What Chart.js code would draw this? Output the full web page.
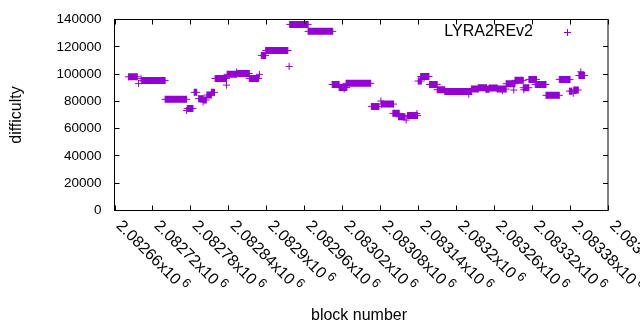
<!DOCTYPE html>
<html lang="en">
<head>
<meta charset="UTF-8">
<title>LYRA2REv2 difficulty</title>
<script src="https://cdn.jsdelivr.net/npm/chart.js"></script>
<style>
  body { margin: 0; background: #fff; }
</style>
</head>
<body>
<canvas id="diffChart" width="640" height="330"></canvas>
<script>
// runs of equal difficulty: first block, last block, difficulty
const runStart = [2082682, 2082698, 2082702, 2082703, 2082740, 2082774, 2082775, 2082786, 2082793, 2082800,
                  2082801, 2082806, 2082813, 2082819, 2082837, 2082838, 2082853, 2082854, 2082873, 2082889,
                  2082892, 2082899, 2082936, 2082937, 2082966, 2083004, 2083015, 2083023, 2083026, 2083066,
                  2083081, 2083082, 2083100, 2083109, 2083121, 2083123, 2083138, 2083140, 2083144, 2083158,
                  2083170, 2083182, 2083220, 2083224, 2083235, 2083247, 2083252, 2083265, 2083273, 2083279,
                  2083291, 2083293, 2083306, 2083307, 2083315, 2083325, 2083342, 2083363, 2083379, 2083385,
                  2083386, 2083394, 2083397];
const runEnd   = [2082696, 2082698, 2082702, 2082740, 2082774, 2082774, 2082784, 2082790, 2082800, 2082800,
                  2082805, 2082813, 2082818, 2082837, 2082837, 2082853, 2082853, 2082873, 2082888, 2082889,
                  2082899, 2082934, 2082936, 2082966, 2083005, 2083015, 2083027, 2083023, 2083065, 2083078,
                  2083081, 2083101, 2083110, 2083119, 2083121, 2083139, 2083138, 2083145, 2083157, 2083170,
                  2083182, 2083224, 2083220, 2083235, 2083248, 2083252, 2083265, 2083279, 2083273, 2083293,
                  2083291, 2083306, 2083315, 2083307, 2083327, 2083342, 2083363, 2083380, 2083383, 2083385,
                  2083393, 2083403, 2083397];
const runDiff  = [98000, 93000, 96700, 95200, 81500, 73300, 74800, 86600, 82000, 79500,
                  81000, 84600, 86600, 96800, 91900, 99800, 101500, 100400, 96800, 99800,
                  113700, 117300, 105600, 136400, 131300, 92400, 90100, 89000, 93200, 76300,
                  80200, 78000, 71200, 68700, 66300, 69700, 71000, 94900, 98200, 92400,
                  88500, 87300, 85200, 89000, 90000, 88800, 89700, 89000, 87900, 92900,
                  88300, 95400, 90000, 88500, 96100, 92400, 84400, 96100, 87500, 85900,
                  88300, 99000, 101700];

const xTicks = [2082660, 2082720, 2082780, 2082840, 2082900, 2082960, 2083020,
                2083080, 2083140, 2083200, 2083260, 2083320, 2083380, 2083440];
const xTickLabels = ['2.08266', '2.08272', '2.08278', '2.08284', '2.0829', '2.08296', '2.08302',
                     '2.08308', '2.08314', '2.0832', '2.08326', '2.08332', '2.08338', '2.08344'];
const yTicks = [0, 20000, 40000, 60000, 80000, 100000, 120000, 140000];
const yTickLabels = ['0', '20000', '40000', '60000', '80000', '100000', '120000', '140000'];

const seriesName = 'LYRA2REv2';
const purple = '#9400d3';
const font = '"Liberation Sans", Arial, sans-serif';

// each run becomes a short segment; a null y ends it
const points = [];
runStart.forEach((s, i) => {
    points.push({ x: s, y: runDiff[i] });
    if (runEnd[i] !== s) points.push({ x: runEnd[i], y: runDiff[i] });
    points.push({ x: runEnd[i], y: null });
});

function crispCross(ctx, x, y) {
    ctx.beginPath();
    ctx.moveTo(x - 3.5, y);
    ctx.lineTo(x + 3.5, y);
    ctx.moveTo(x, y - 3.5);
    ctx.lineTo(x, y + 3.5);
    ctx.stroke();
}

const gnuplotFrame = {
    id: 'gnuplotFrame',
    afterDatasetsDraw(chart) {
        const ctx = chart.ctx;
        const a = chart.chartArea;
        const xs = chart.scales.x;
        const ys = chart.scales.y;
        ctx.save();
        ctx.strokeStyle = '#000';
        ctx.lineWidth = 1;
        ctx.strokeRect(a.left, a.top, a.right - a.left, a.bottom - a.top);

        // ticks point inward, mirrored on top and right
        ctx.beginPath();
        xTicks.forEach(v => {
            const px = Math.round(xs.getPixelForValue(v)) + 0.5;
            ctx.moveTo(px, a.bottom); ctx.lineTo(px, a.bottom - 5);
            ctx.moveTo(px, a.top); ctx.lineTo(px, a.top + 5);
        });
        yTicks.forEach(v => {
            const py = Math.round(ys.getPixelForValue(v) - 0.5) + 0.5;
            ctx.moveTo(a.left, py); ctx.lineTo(a.left + 5, py);
            ctx.moveTo(a.right, py); ctx.lineTo(a.right - 5, py);
        });
        ctx.stroke();

        ctx.fillStyle = '#000';
        ctx.font = '13.5px ' + font;
        ctx.textAlign = 'right';
        ctx.textBaseline = 'middle';
        yTicks.forEach((v, i) => {
            ctx.fillText(yTickLabels[i], a.left - 13, ys.getPixelForValue(v));
        });

        // rotated x labels: mantissa x10 with a raised 6
        xTicks.forEach((v, i) => {
            const px = xs.getPixelForValue(v);
            ctx.save();
            ctx.translate(px + 1, a.bottom + 16);
            ctx.rotate(Math.PI / 4);
            ctx.textAlign = 'left';
            ctx.textBaseline = 'alphabetic';
            ctx.font = '16px ' + font;
            const main = xTickLabels[i] + 'x10';
            ctx.fillText(main, 0, 0);
            const w = ctx.measureText(main).width;
            ctx.font = '12.8px ' + font;
            ctx.fillText('6', w + 3, -6);
            ctx.restore();
        });

        ctx.font = '16px ' + font;
        ctx.textAlign = 'center';
        ctx.textBaseline = 'middle';
        ctx.fillText('block number', 359, 316);
        ctx.save();
        ctx.translate(17, (a.top + a.bottom) / 2);
        ctx.rotate(-Math.PI / 2);
        ctx.fillText('difficulty', 0, 0);
        ctx.restore();

        // key
        ctx.textAlign = 'right';
        ctx.fillText(seriesName, 533, 32);
        ctx.strokeStyle = purple;
        crispCross(ctx, 567.5, 32.5);
        ctx.restore();
    }
};

new Chart(document.getElementById('diffChart'), {
    type: 'scatter',
    data: {
        datasets: [{
            label: seriesName,
            data: points,
            showLine: true,
            spanGaps: false,
            borderColor: purple,
            borderWidth: 7,
            borderCapStyle: 'butt',
            pointStyle: 'cross',
            pointRadius: 3.5,
            pointHoverRadius: 3.5,
            pointBorderWidth: 1,
            pointBorderColor: purple,
            pointBackgroundColor: purple
        }]
    },
    options: {
        responsive: false,
        animation: false,
        layout: { padding: { left: 114.5, right: 32, top: 19.5, bottom: 119.5 } },
        plugins: {
            legend: { display: false },
            tooltip: { enabled: false }
        },
        scales: {
            x: { type: 'linear', min: 2082660, max: 2083440, display: false },
            y: { min: 0, max: 140000, display: false }
        }
    },
    plugins: [gnuplotFrame]
});
</script>
</body>
</html>
